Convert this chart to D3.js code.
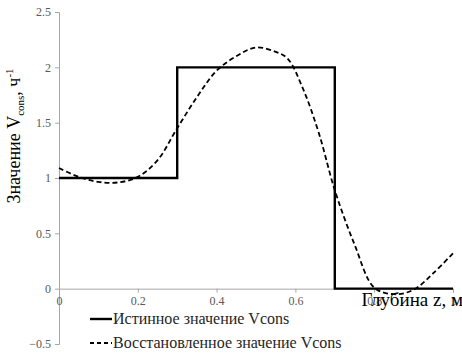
<!DOCTYPE html>
<html>
<head>
<meta charset="utf-8">
<script src="https://cdn.jsdelivr.net/npm/d3@7"></script>
<style>
  body { margin: 0; background: #fff; }
</style>
</head>
<body>
<div id="chart"></div>
<script>
// true profile (step function)
const trueZ = [0, 0.3, 0.3, 0.7, 0.7, 1];
const trueV = [1, 1, 2, 2, 0, 0];

// reconstructed profile
const recZ = [0, 0.05, 0.1, 0.15, 0.2, 0.25, 0.3, 0.35, 0.4, 0.45, 0.5, 0.55, 0.58, 0.62, 0.66, 0.7, 0.75, 0.8, 0.85, 0.9, 0.95, 1];
const recV = [1.09, 1.01, 0.965, 0.96, 1.01, 1.16, 1.45, 1.73, 1.97, 2.1, 2.18, 2.14, 2.08, 1.8, 1.4, 0.89, 0.4, 0.01, -0.05, -0.01, 0.14, 0.32];

const xTicks = [0, 0.2, 0.4, 0.6, 0.8, 1];
const yTicks = [-0.5, 0, 0.5, 1, 1.5, 2, 2.5];
const legendLabels = ['Истинное значение Vcons', 'Восстановленное значение Vcons'];

const width = 462, height = 354;
const serif = '"Liberation Serif", "Times New Roman", serif';

const svg = d3.select('#chart').append('svg')
  .attr('width', width)
  .attr('height', height)
  .attr('font-family', serif);

const x = d3.scaleLinear().domain([0, 1]).range([59, 453]);
const y = d3.scaleLinear().domain([-0.5, 2.5]).range([344, 12]);

const axisColor = '#a6a6a6';
const labelColor = '#595959';

// y axis
const yAxis = svg.append('g')
  .attr('transform', `translate(${x(0)},0)`)
  .call(d3.axisLeft(y).tickValues(yTicks).tickSize(4).tickPadding(4)
    .tickFormat(d => d3.format('')(d)))
  .attr('font-family', serif);
yAxis.select('.domain').attr('stroke', axisColor);
yAxis.selectAll('.tick line').attr('stroke', axisColor);
yAxis.selectAll('.tick text')
  .attr('fill', labelColor)
  .style('font-family', serif)
  .style('font-size', '12px');

// x axis at zero
const xAxis = svg.append('g')
  .attr('transform', `translate(0,${y(0)})`)
  .call(d3.axisBottom(x).tickValues(xTicks).tickSize(4).tickPadding(4)
    .tickFormat(d => d3.format('')(d)))
  .attr('font-family', serif);
xAxis.select('.domain').attr('stroke', axisColor);
xAxis.selectAll('.tick line').attr('stroke', axisColor);
xAxis.selectAll('.tick text')
  .attr('fill', labelColor)
  .style('font-family', serif)
  .style('font-size', '12px');

// reconstructed (dashed, smooth)
const recLine = d3.line()
  .x(d => x(d[0]))
  .y(d => y(d[1]))
  .curve(d3.curveCatmullRom.alpha(0.5));

svg.append('path')
  .datum(d3.zip(recZ, recV))
  .attr('fill', 'none')
  .attr('stroke', '#000')
  .attr('stroke-width', 1.8)
  .attr('stroke-dasharray', '5,3')
  .attr('d', recLine);

// true (solid step)
const trueLine = d3.line().x(d => x(d[0])).y(d => y(d[1]));
svg.append('path')
  .datum(d3.zip(trueZ, trueV))
  .attr('fill', 'none')
  .attr('stroke', '#000')
  .attr('stroke-width', 2.4)
  .attr('d', trueLine);

// axis titles
svg.append('text')
  .attr('x', 463)
  .attr('y', 306)
  .attr('text-anchor', 'end')
  .style('font-family', serif)
  .style('font-size', '19px')
  .attr('fill', '#000')
  .text('Глубина z, м');

const yTitle = svg.append('text')
  .attr('transform', 'translate(20,136) rotate(-90)')
  .attr('text-anchor', 'middle')
  .style('font-family', serif)
  .style('font-size', '18px')
  .attr('fill', '#000');
yTitle.append('tspan').text('Значение V');
yTitle.append('tspan').attr('dy', 4).style('font-size', '11px').text('cons');
yTitle.append('tspan').attr('dy', -4).text(', ч');
yTitle.append('tspan').attr('dy', -7).style('font-size', '11px').text('-1');

// legend
const legend = svg.append('g');
legendLabels.forEach((lab, i) => {
  const ly = 319 + i * 24;
  legend.append('line')
    .attr('x1', 90).attr('x2', 112)
    .attr('y1', ly).attr('y2', ly)
    .attr('stroke', '#000')
    .attr('stroke-width', i === 0 ? 2.4 : 1.8)
    .attr('stroke-dasharray', i === 0 ? null : '4,3');
  legend.append('text')
    .attr('x', 113)
    .attr('y', ly + 5)
    .style('font-family', serif)
    .style('font-size', '16px')
    .attr('fill', '#262626')
    .text(lab);
});
</script>
</body>
</html>
